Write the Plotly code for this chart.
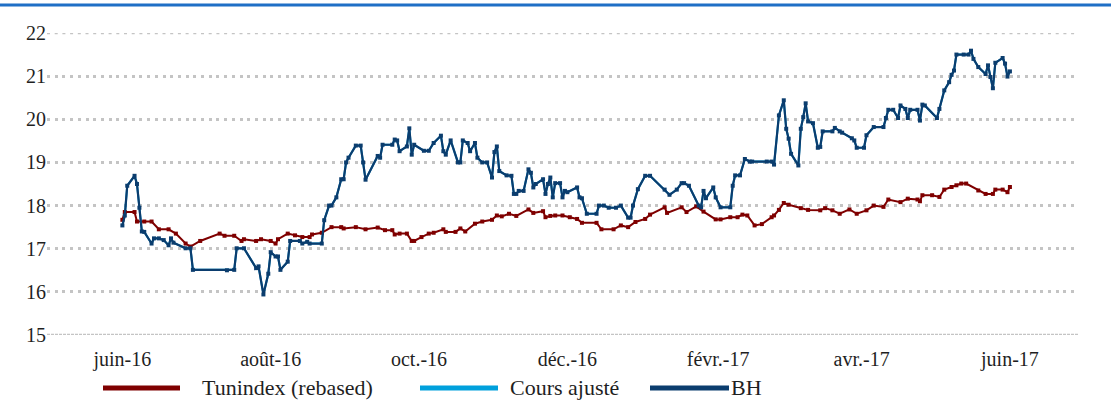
import pandas as pd
import plotly.graph_objects as go

# ---- data (day offsets from 2016-06-01, values) ----
BASE_DATE = "2016-06-01"

bh_day = [0, 1, 2, 5, 6, 7, 8, 9, 12, 13, 15, 17, 19, 20, 21, 26, 28, 29, 43, 46,
          47, 50, 55, 56, 58, 60, 61, 63, 64, 65, 68, 69, 73, 74, 76, 77, 82, 83, 85, 86,
          88, 90, 91, 92, 93, 96, 98, 99, 100, 105, 106, 107, 111, 112, 113, 114, 117, 118, 119, 120,
          124, 126, 128, 131, 132, 133, 135, 138, 139, 140, 142, 143, 145, 146, 148, 150, 152, 153, 154, 155,
          158, 160, 161, 162, 163, 165, 167, 168, 169, 170, 173, 174, 175, 176, 177, 178, 180, 181, 182, 183,
          187, 188, 189, 191, 195, 196, 198, 200, 203, 205, 208, 209, 210, 212, 215, 217, 223, 225, 228, 230,
          231, 233, 237, 238, 239, 240, 243, 244, 246, 250, 251, 252, 254, 256, 258, 259, 265, 267, 268, 270,
          272, 273, 274, 275, 278, 279, 280, 281, 282, 284, 286, 287, 288, 292, 293, 295, 296, 300, 301, 302,
          305, 306, 309, 313, 314, 315, 317, 319, 320, 322, 323, 324, 327, 328, 329, 330, 335, 336, 338, 340,
          341, 342, 343, 346, 348, 349, 350, 352, 355, 356, 357, 358, 359, 362, 363, 364, 365]
bh_value = [17.54, 17.77, 18.46, 18.69, 18.50, 17.95, 17.40, 17.39, 17.12, 17.24, 17.24, 17.20, 17.08, 17.24, 17.14, 17.01, 17.01, 16.51, 16.50, 16.51,
            17.01, 17.01, 16.55, 16.59, 15.94, 16.42, 16.92, 16.82, 16.82, 16.51, 16.70, 17.18, 17.18, 17.12, 17.16, 17.12, 17.12, 17.66, 18.00, 18.00,
            18.19, 18.61, 18.61, 19.00, 19.11, 19.39, 19.39, 19.00, 18.60, 19.15, 19.11, 19.41, 19.41, 19.53, 19.51, 19.26, 19.37, 19.79, 19.18, 19.41,
            19.27, 19.27, 19.45, 19.62, 19.26, 19.18, 19.51, 19.00, 19.00, 19.51, 19.45, 19.26, 19.45, 19.11, 19.00, 19.00, 18.65, 19.24, 19.37, 18.80,
            18.70, 18.69, 18.27, 18.27, 18.34, 18.34, 18.84, 18.76, 18.42, 18.50, 18.61, 18.27, 18.50, 18.65, 18.19, 18.52, 18.52, 18.19, 18.34, 18.31,
            18.42, 18.19, 18.17, 17.81, 17.81, 18.00, 18.00, 17.95, 17.95, 18.00, 17.72, 17.72, 18.00, 18.38, 18.69, 18.69, 18.37, 18.25, 18.37, 18.52,
            18.52, 18.46, 18.00, 17.96, 18.34, 18.17, 18.42, 18.19, 17.96, 17.96, 18.46, 18.70, 18.70, 19.08, 19.02, 19.02, 19.02, 19.02, 18.95, 20.09,
            20.44, 19.78, 19.55, 19.20, 18.93, 19.78, 20.05, 20.37, 19.95, 19.91, 19.34, 19.36, 19.72, 19.72, 19.80, 19.72, 19.69, 19.56, 19.51, 19.34,
            19.34, 19.63, 19.82, 19.82, 20.03, 20.22, 20.22, 20.03, 20.32, 20.24, 20.03, 20.22, 20.22, 19.97, 20.34, 20.32, 20.03, 20.24, 20.67, 20.86,
            21.03, 21.13, 21.50, 21.50, 21.50, 21.59, 21.40, 21.21, 21.05, 21.25, 20.98, 20.72, 21.31, 21.42, 21.29, 20.99, 21.11]

# "Cours ajusté" coincides with the BH line on the reference chart
cours_day = bh_day
cours_value = bh_value

tun_day = [0, 1, 5, 6, 9, 12, 15, 19, 22, 26, 28, 32, 40, 42, 46, 49, 50, 55, 57, 61,
           63, 64, 68, 71, 74, 77, 78, 82, 86, 90, 91, 96, 100, 105, 108, 111, 112, 114, 117, 119,
           120, 123, 126, 128, 132, 133, 137, 139, 141, 145, 148, 152, 154, 156, 159, 162, 167, 169, 173, 174,
           176, 178, 181, 184, 187, 189, 195, 197, 202, 205, 208, 211, 215, 217, 223, 224, 230, 232, 236, 239,
           244, 246, 250, 253, 255, 257, 260, 263, 267, 268, 270, 272, 274, 279, 282, 287, 289, 292, 295, 299,
           302, 306, 309, 313, 315, 320, 323, 327, 328, 329, 333, 336, 338, 341, 343, 345, 347, 352, 355, 358,
           359, 362, 364, 365]
tun_value = [17.67, 17.85, 17.85, 17.63, 17.63, 17.63, 17.45, 17.45, 17.35, 17.12, 17.05, 17.18, 17.35, 17.30, 17.30, 17.18, 17.22, 17.18, 17.22, 17.18,
             17.12, 17.22, 17.35, 17.31, 17.27, 17.27, 17.33, 17.37, 17.50, 17.50, 17.47, 17.50, 17.45, 17.49, 17.43, 17.43, 17.33, 17.35, 17.35, 17.18,
             17.18, 17.27, 17.35, 17.37, 17.45, 17.39, 17.39, 17.47, 17.40, 17.58, 17.63, 17.67, 17.77, 17.75, 17.81, 17.76, 17.91, 17.83, 17.87, 17.73,
             17.76, 17.77, 17.77, 17.73, 17.69, 17.60, 17.60, 17.45, 17.45, 17.54, 17.50, 17.62, 17.69, 17.79, 17.96, 17.83, 17.96, 17.85, 17.98, 17.86,
             17.68, 17.68, 17.73, 17.73, 17.79, 17.77, 17.54, 17.57, 17.73, 17.77, 17.90, 18.06, 18.02, 17.94, 17.90, 17.89, 17.94, 17.89, 17.81, 17.91,
             17.81, 17.89, 18.00, 17.97, 18.14, 18.08, 18.16, 18.14, 18.10, 18.24, 18.24, 18.20, 18.37, 18.43, 18.47, 18.51, 18.51, 18.35, 18.27, 18.27,
             18.37, 18.37, 18.31, 18.43]

tick_dates = ["2016-06-01", "2016-08-01", "2016-10-01", "2016-12-01", "2017-02-01", "2017-04-01", "2017-06-01"]
tick_labels = ["juin-16", "août-16", "oct.-16", "déc.-16", "févr.-17", "avr.-17", "juin-17"]
y_ticks = [15, 16, 17, 18, 19, 20, 21, 22]

series_names = ["Tunindex (rebased)", "Cours ajusté", "BH"]
series_colors = ["#7f0000", "#00a0dc", "#0b3d6e"]

# ---- build ----
base = pd.Timestamp(BASE_DATE)
def to_dates(days):
    return base + pd.to_timedelta(days, unit="D")

FONT = "Liberation Serif, 'Liberation Serif', 'DejaVu Serif', serif"
TXT = "#1f1f1f"

fig = go.Figure()
fig.add_trace(go.Scatter(x=to_dates(cours_day), y=cours_value, name=series_names[1],
                         mode="lines", line=dict(color=series_colors[1], width=2),
                         showlegend=False))
fig.add_trace(go.Scatter(x=to_dates(tun_day), y=tun_value, name=series_names[0],
                         mode="lines+markers", line=dict(color=series_colors[0], width=2),
                         marker=dict(symbol="square", size=4, color=series_colors[0]),
                         showlegend=False))
fig.add_trace(go.Scatter(x=to_dates(bh_day), y=bh_value, name=series_names[2],
                         mode="lines+markers", line=dict(color=series_colors[2], width=2.2),
                         marker=dict(symbol="square", size=4, color=series_colors[2]),
                         showlegend=False))

L, R, T, B = 47, 33, 33, 85
W, H = 1111, 420
pw, ph = W - L - R, H - T - B

def px_x(px):
    return (px - L) / pw
def px_y(py):
    return (H - B - py) / ph

shapes = []
# top rule
shapes.append(dict(type="line", xref="paper", yref="paper", x0=px_x(0), x1=px_x(W),
                   y0=px_y(5), y1=px_y(5), line=dict(color="#1f6fc6", width=3)))
# grid line at the top (22) and base line at 15
shapes.append(dict(type="line", xref="paper", yref="y", x0=0, x1=1, y0=22, y1=22,
                   line=dict(color="#c4c4c4", width=2.6, dash="3px,4.7px"), layer="below"))
shapes.append(dict(type="line", xref="paper", yref="y", x0=0, x1=1, y0=15, y1=15,
                   line=dict(color="#c4c4c4", width=2.6, dash="3px,1px"), layer="below"))

annotations = []
legend_items = [(103, 180, 200), (420, 498, 508), (650, 729, 729)]
leg_y = 388
for (x0, x1, tx), name, col in zip(legend_items, series_names, series_colors):
    shapes.append(dict(type="line", xref="paper", yref="paper", x0=px_x(x0), x1=px_x(x1),
                       y0=px_y(leg_y), y1=px_y(leg_y), line=dict(color=col, width=5)))
    annotations.append(dict(text=name, xref="paper", yref="paper", x=px_x(tx), y=px_y(leg_y),
                            xanchor="left", yanchor="middle", showarrow=False,
                            font=dict(family=FONT, size=22, color=TXT)))

fig.update_layout(
    width=W, height=H,
    margin=dict(l=L, r=R, t=T, b=B, pad=0, autoexpand=False),
    paper_bgcolor="white", plot_bgcolor="white",
    showlegend=False,
    shapes=shapes, annotations=annotations,
    font=dict(family=FONT, size=20, color=TXT),
)
fig.update_xaxes(type="date", range=["2016-05-01", "2017-06-29"],
                 tickmode="array", tickvals=tick_dates, ticktext=tick_labels,
                 showgrid=False, zeroline=False, showline=False,
                 ticks="outside", ticklen=6, tickcolor="rgba(0,0,0,0)", automargin=False,
                 tickfont=dict(family=FONT, size=20, color=TXT))
fig.update_yaxes(range=[15, 22], tickmode="array", tickvals=y_ticks,
                 showgrid=True, gridcolor="#c4c4c4", gridwidth=2.6, griddash="3px,4.7px",
                 zeroline=False, showline=False, ticks="", automargin=False,
                 tickfont=dict(family=FONT, size=20, color=TXT))

fig.write_html("out.html", config={"displayModeBar": False},
               post_script="document.body.style.margin='0';document.body.style.padding='0';")
